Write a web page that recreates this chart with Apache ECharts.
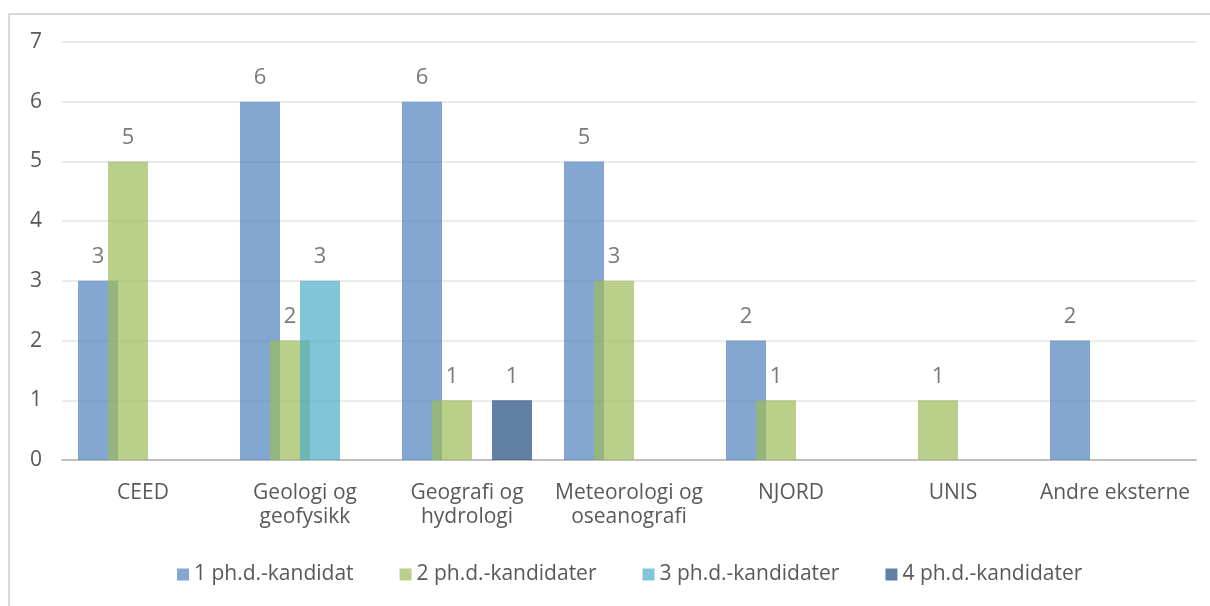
<!DOCTYPE html>
<html>
<head>
<meta charset="utf-8">
<script src="https://cdn.jsdelivr.net/npm/echarts@6/dist/echarts.min.js"></script>
<style>
  body { margin: 0; background: #fff; }
  #frame { position: absolute; left: 8px; top: 13px; width: 1210px; height: 600px;
           border-left: 2px solid #d9d9d9; border-top: 2px solid #d9d9d9; }
  #chart { position: absolute; left: 0; top: 0; width: 1210px; height: 606px; }
</style>
</head>
<body>
<div id="frame"></div>
<div id="chart"></div>
<script>
const categories = ['CEED', 'Geologi og\ngeofysikk', 'Geografi og\nhydrologi', 'Meteorologi og\noseanografi', 'NJORD', 'UNIS', 'Andre eksterne'];
const seriesNames = ['1 ph.d.-kandidat', '2 ph.d.-kandidater', '3 ph.d.-kandidater', '4 ph.d.-kandidater'];
const oneCandidate = [3, 6, 6, 5, 2, '-', 2];
const twoCandidates = [5, 2, 1, 3, 1, 1, '-'];
const threeCandidates = ['-', 3, '-', '-', '-', '-', '-'];
const fourCandidates = ['-', '-', 1, '-', '-', '-', '-'];
const colors = ['#4f81bd', '#9bbb59', '#4bacc6', '#1f497d'];

const font = 'Open Sans';
const chart = echarts.init(document.getElementById('chart'));

const makeSeries = (name, data, color) => ({
  name: name,
  type: 'bar',
  data: data,
  barWidth: 40,
  barGap: '-25%',
  itemStyle: { color: color, opacity: 0.7 },
  label: {
    show: true,
    position: 'top',
    distance: 13,
    color: '#404040',
    fontFamily: font,
    fontSize: 22,
    lineHeight: 22,
  },
});

chart.setOption({
  animation: false,
  textStyle: { fontFamily: font },
  legend: {
    bottom: 16,
    left: 172,
    itemWidth: 12,
    itemHeight: 12,
    itemGap: 46,
    icon: 'rect',
    textStyle: { color: '#595959', fontSize: 21, fontFamily: font },
    data: seriesNames,
  },
  grid: { left: 62, right: 14, top: 42, bottom: 146 },
  xAxis: {
    type: 'category',
    data: categories,
    axisLine: { lineStyle: { color: '#bfbfbf', width: 2 } },
    axisTick: { show: false },
    axisLabel: {
      color: '#595959',
      fontSize: 21,
      lineHeight: 24,
      margin: 21,
      interval: 0,
    },
  },
  yAxis: {
    type: 'value',
    min: 0,
    max: 7,
    interval: 1,
    axisLine: { show: false },
    axisTick: { show: false },
    axisLabel: { color: '#595959', fontSize: 21, margin: 20 },
    splitLine: { lineStyle: { color: '#ebebeb', width: 2 } },
  },
  series: [
    makeSeries(seriesNames[0], oneCandidate, colors[0]),
    makeSeries(seriesNames[1], twoCandidates, colors[1]),
    makeSeries(seriesNames[2], threeCandidates, colors[2]),
    makeSeries(seriesNames[3], fourCandidates, colors[3]),
  ],
});
</script>
</body>
</html>
